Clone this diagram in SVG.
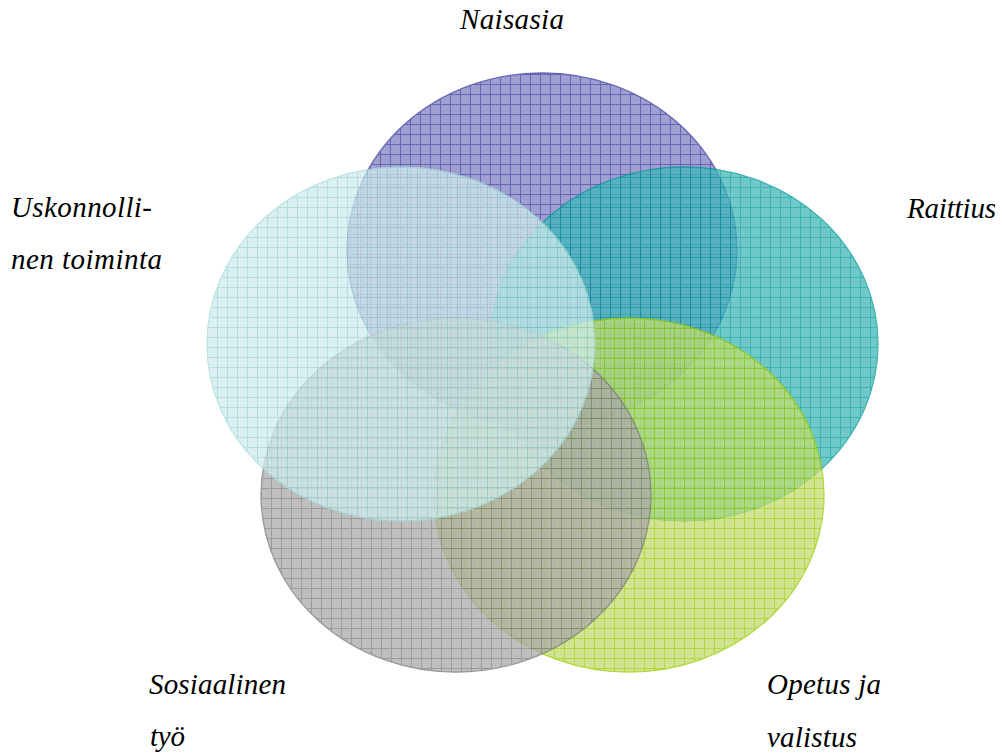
<svg xmlns="http://www.w3.org/2000/svg" width="1002" height="753" viewBox="0 0 1002 753">
<style>
.c{opacity:0.75;stroke-width:1.3}
</style>
<defs>
<pattern id="pN" patternUnits="userSpaceOnUse" width="10" height="10" x="0" y="4"><rect width="10" height="10" fill="#8080c4"/><path d="M0 0.5H10M0.5 0V10" stroke="#333399" stroke-width="1"/></pattern>
<pattern id="pR" patternUnits="userSpaceOnUse" width="10" height="10" x="0" y="7"><rect width="10" height="10" fill="#40b8b8"/><path d="M0 0.5H10M0.5 0V10" stroke="#009999" stroke-width="1"/></pattern>
<pattern id="pU" patternUnits="userSpaceOnUse" width="10" height="10" x="7" y="7"><rect width="10" height="10" fill="#d0ecec"/><path d="M0 0.5H10M0.5 0V10" stroke="#9fd3d3" stroke-width="1"/></pattern>
<pattern id="pS" patternUnits="userSpaceOnUse" width="10" height="10" x="1" y="8"><rect width="10" height="10" fill="#aaaaaa"/><path d="M0 0.5H10M0.5 0V10" stroke="#7a7a7a" stroke-width="1"/></pattern>
<pattern id="pO" patternUnits="userSpaceOnUse" width="10" height="10" x="4" y="8"><rect width="10" height="10" fill="#c4dc70"/><path d="M0 0.5H10M0.5 0V10" stroke="#99cc00" stroke-width="1"/></pattern>
</defs>
<g font-family="Liberation Serif" font-style="italic" font-size="29" fill="#000">
<g id="naisasia"><ellipse class="c" cx="542" cy="250" rx="195" ry="177" fill="url(#pN)" stroke="#333399"/><text x="460" y="29" textLength="104" lengthAdjust="spacing">Naisasia</text></g>
<g id="raittius"><ellipse class="c" cx="684" cy="344" rx="194" ry="177" fill="url(#pR)" stroke="#009999"/><text x="907" y="218" textLength="89" lengthAdjust="spacing">Raittius</text></g>
<g id="opetus"><ellipse class="c" cx="629" cy="495" rx="195" ry="177" fill="url(#pO)" stroke="#99cc00"/><text x="767" y="694" textLength="114" lengthAdjust="spacing">Opetus ja</text><text x="767" y="747" textLength="90" lengthAdjust="spacing">valistus</text></g>
<g id="sosiaalinen"><ellipse class="c" cx="456" cy="495" rx="195" ry="177" fill="url(#pS)" stroke="#777777"/><text x="149" y="694" textLength="137" lengthAdjust="spacing">Sosiaalinen</text><text x="150" y="746" textLength="35" lengthAdjust="spacing">työ</text></g>
<g id="uskonnollinen"><ellipse class="c" cx="401" cy="344" rx="194" ry="177" fill="url(#pU)" stroke="#a8dcdc"/><text x="11" y="217" textLength="141" lengthAdjust="spacing">Uskonnolli-</text><text x="11" y="269" textLength="151" lengthAdjust="spacing">nen toiminta</text></g>
</g>
<g id="connectors"></g>
</svg>
